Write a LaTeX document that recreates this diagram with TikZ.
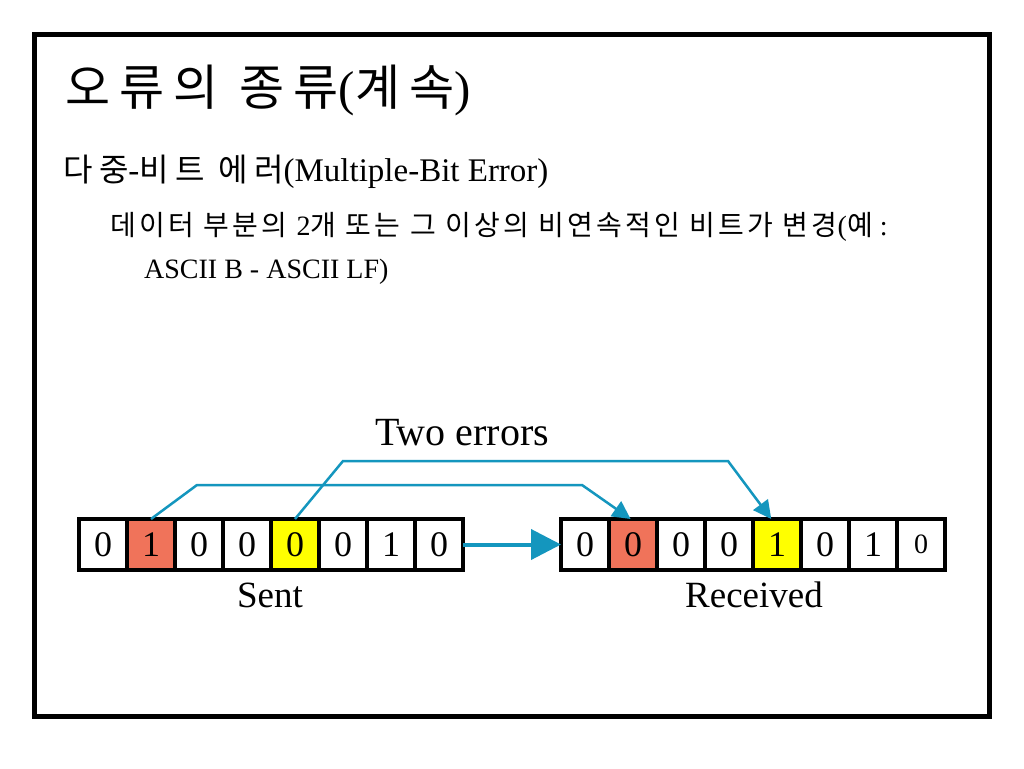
\documentclass[tikz,border=0pt]{standalone}
\usepackage{fontspec}
\setmainfont{Liberation Serif}
\newfontfamily\kra[LetterSpace=19]{Noto Sans CJK KR}
\newfontfamily\krb[LetterSpace=20]{Noto Sans CJK KR}
\newfontfamily\krc[LetterSpace=11.5]{Noto Sans CJK KR}
\usetikzlibrary{arrows.meta,calc}
\definecolor{teal1}{RGB}{20,150,190}
\definecolor{errred}{RGB}{240,115,90}
\definecolor{erryel}{RGB}{255,255,0}
\tikzset{
  cell/.style={draw=black, line width=4.5pt, minimum width=48pt, minimum height=51pt,
    inner sep=0pt, outer sep=0pt, font=\fontsize{36}{36}\selectfont},
  lbl/.style={inner sep=0pt, anchor=base, font=\fontsize{37}{37}\selectfont},
  txt/.style={inner sep=0pt, anchor=base west},
  errline/.style={draw=teal1, line width=2.5pt, -{Triangle[length=18pt,width=18pt]}},
  mainarrow/.style={draw=teal1, line width=4pt, -{Triangle[length=30pt,width=30pt]}},
}
\begin{document}
\begin{tikzpicture}[x=1pt,y=-1pt]
\useasboundingbox (0,0) rectangle (1024,768);
\fill[white] (0,0) rectangle (1024,768);
\draw[line width=4.5pt] (34.5,34.5) rectangle (989.5,716.5);

\node[txt] (title) at (65,105) {\fontsize{49}{49}\selectfont{\kra 오류의 종류}({\kra 계속})};
\node[txt] (l2) at (63,181) {{\fontsize{32}{32}\selectfont\krb 다중}\fontsize{33}{33}\selectfont-{\fontsize{32}{32}\selectfont\krb 비트 에러}(Multiple-Bit Error)};
\node[txt] (l3) at (110,235) {\fontsize{28}{28}\selectfont{\krc 데이터 부분의 }2{\krc 개 또는 그 이상의 비연속적인 비트가 변경}({\krc 예} :};
\node[txt] (l4) at (144,278) {\fontsize{28}{28}\selectfont ASCII B - ASCII LF)};

% sent bits
\foreach \b [count=\i] in {0,1,0,0,0,0,1,0}
  \node[cell] (s\i) at (79+48*\i-24,544.5) {\b};
% received bits
\foreach \b [count=\i] in {0,0,0,0,1,0,1}
  \node[cell] (r\i) at (561+48*\i-24,544.5) {\b};
\node[cell,font=\fontsize{28}{28}\selectfont] (r8) at (561+48*8-24,544.5) {0};
% highlighted cells
\node[cell,fill=errred] at (s2) {1};
\node[cell,fill=erryel] at (s5) {0};
\node[cell,fill=errred] at (r2) {0};
\node[cell,fill=erryel] at (r5) {1};

\node[lbl,font=\fontsize{40}{40}\selectfont] (two) at (462,445) {Two errors};
\node[lbl] (sent) at (270,607) {Sent};
\node[lbl] (recv) at (754,607) {Received};

\draw[mainarrow] (s8.east) -- (r1.west);
\coordinate (a1) at (197,485);
\coordinate (a2) at (582,485);
\coordinate (b1) at (343,461);
\coordinate (b2) at (728,461);
\draw[errline] (s2.north) -- (a1) -- (a2) -- ($(r2.north west)!0.45!(r2.north east)$);
\draw[errline] (s5.north) -- (b1) -- (b2) -- ($(r5.north west)!0.38!(r5.north east)$);
\end{tikzpicture}
\end{document}
